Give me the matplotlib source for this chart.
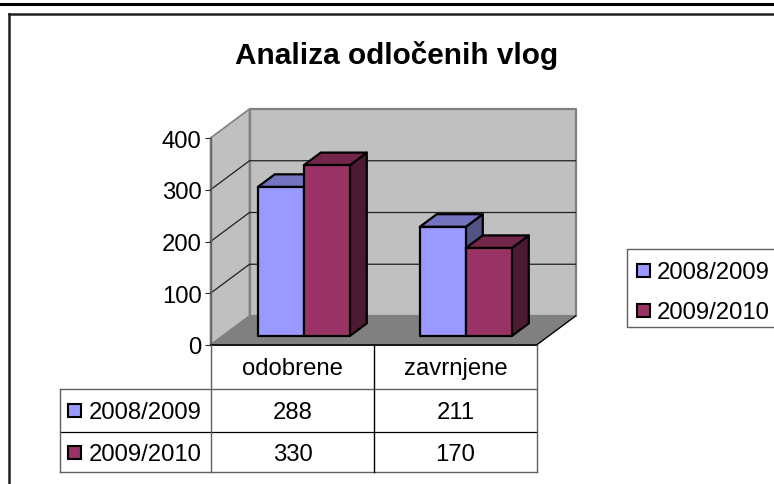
import matplotlib
matplotlib.use("Agg")
import matplotlib.pyplot as plt
from matplotlib.patches import Polygon, Rectangle

plt.rcParams['font.family'] = ['Liberation Sans', 'DejaVu Sans']

title = "Analiza odločenih vlog"
categories = ["odobrene", "zavrnjene"]
series_names = ["2008/2009", "2009/2010"]
series_1 = [288, 211]
series_2 = [330, 170]
yticks = [0, 100, 200, 300, 400]

W, H = 774, 485
FS = 17.2

# colours: front, top, side
blue = ("#9999ff", "#7373bf", "#525285")
maroon = ("#993366", "#732649", "#4d1a33")

fig = plt.figure(figsize=(W / 100, H / 100), dpi=100)

# overlay in pixels for the frame, table and legend
px = fig.add_axes([0, 0, 1, 1], zorder=3)
px.set_xlim(0, W)
px.set_ylim(H, 0)
px.axis('off')
px.patch.set_alpha(0)

# front plane of the chart: x 211..537, y 346..139
ax = fig.add_axes([210.5 / W, 1 - 346 / H, 326 / W, 207 / H], zorder=2)
ax.set_xlim(0, len(categories))
ax.set_ylim(0, yticks[-1])
ax.patch.set_alpha(0)
for s in ['top', 'right']:
    ax.spines[s].set_visible(False)
ax.spines['left'].set_color('#606060')
ax.spines['left'].set_linewidth(1.0)
ax.spines['bottom'].set_color('black')
ax.spines['bottom'].set_linewidth(1.2)
ax.set_yticks(yticks)
ax.set_xticks([])
ax.tick_params(axis='y', length=4.3, width=0.8, pad=2.2, labelsize=FS, color='#303030')

# depth offset of the back wall, in data units
ddx = 39 / 163
ddy = 29 * yticks[-1] / 207


def proj(cat, val, depth):
    return (cat + depth * ddx, val + depth * ddy)


def face(points, color, edge='black', lw=1.6, z=2):
    ax.add_patch(Polygon([proj(*p) for p in points], closed=True, facecolor=color,
                         edgecolor=edge, linewidth=lw, clip_on=False, zorder=z,
                         joinstyle='round'))


top = yticks[-1]
n = len(categories)
# walls and floor
face([(0, 0, 0), (0, top, 0), (0, top, 1), (0, 0, 1)], '#c0c0c0', '#808080', 1.2, 1)
face([(0, 0, 1), (0, top, 1), (n, top, 1), (n, 0, 1)], '#c0c0c0', '#808080', 1.6, 1)
face([(0, 0, 0), (n, 0, 0), (n, 0, 1), (0, 0, 1)], '#808080', '#808080', 1.0, 1)

for v in yticks[1:-1]:
    xs, ys = zip(proj(0, v, 0), proj(0, v, 1), proj(n, v, 1))
    ax.plot(xs, ys, color='#202020', lw=0.9, clip_on=False, zorder=1.5)
xs, ys = zip(proj(n, 0, 0), proj(n, 0, 1))
ax.plot(xs, ys, color='black', lw=0.9, clip_on=False, zorder=1.5)

# bars
bar_w = 46 / 163
d0, d1 = 0.31, 0.31 + 17 / 39
gap = (1 - 2 * bar_w) / 2 - 0.3 / 163
for i in range(n):
    for k, (vals, cols) in enumerate([(series_1, blue), (series_2, maroon)]):
        x0 = i + gap + k * bar_w - i * 1 / 163
        x1 = x0 + bar_w
        v = vals[i]
        face([(x1, 0, d0), (x1, v, d0), (x1, v, d1), (x1, 0, d1)], cols[2], z=3 + k)
        face([(x0, v, d0), (x1, v, d0), (x1, v, d1), (x0, v, d1)], cols[1], z=3 + k)
        face([(x0, 0, d0), (x1, 0, d0), (x1, v, d0), (x0, v, d0)], cols[0], z=3 + k)

# outer frame
px.plot([0, W], [5, 5], color='black', lw=2.2)
px.plot([9, W], [15, 15], color='#202020', lw=1.8)
px.plot([9, 9], [15, H], color='#202020', lw=1.8)

px.text(397, 55, title, ha='center', va='center', fontsize=21.4, fontweight='bold')

# data table
tx = [211, 374, 537]
ty = [345.5, 389.5, 432.5, 472.5]
line = '#606060'
px.plot([60, 537], [ty[1], ty[1]], color=line, lw=1.0)
px.plot([60, 537], [ty[2], ty[2]], color='black', lw=0.9)
px.plot([60, 537], [ty[3], ty[3]], color=line, lw=1.0)
px.plot([60, 60], [ty[1], ty[3]], color=line, lw=1.0)
for x in tx:
    px.plot([x, x], [ty[0], ty[3]], color=line if x != 374 else 'black', lw=1.0)

for i, c in enumerate(categories):
    px.text((tx[i] + tx[i + 1]) / 2, (ty[0] + ty[1]) / 2 + 2, c, ha='center', va='center', fontsize=FS)

for r, (name, vals, cols) in enumerate(zip(series_names, [series_1, series_2], [blue, maroon])):
    yc = (ty[r + 1] + ty[r + 2]) / 2 + (0 if r == 0 else 0.5)
    px.add_patch(Rectangle((68, yc - 6.5), 13, 13, facecolor=cols[0], edgecolor='black', lw=1.5))
    px.text(89, yc + 2, name, ha='left', va='center', fontsize=FS)
    for i in range(n):
        px.text((tx[i] + tx[i + 1]) / 2, yc + 2, str(vals[i]), ha='center', va='center', fontsize=FS)

# legend
px.plot([W, 627, 627, W], [249.5, 249.5, 328, 328], color=line, lw=1.0)
for yc, name, cols in zip([271.5, 311.5], series_names, [blue, maroon]):
    px.add_patch(Rectangle((636.5, yc - 6.5), 13, 13, facecolor=cols[0], edgecolor='black', lw=1.5))
    px.text(657, yc + 2, name, ha='left', va='center', fontsize=FS)

fig.savefig("out.png", dpi=100)
